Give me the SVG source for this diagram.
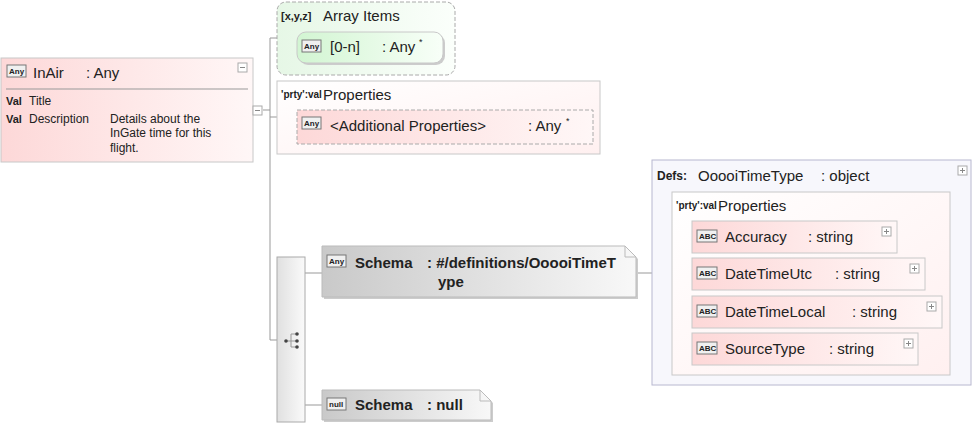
<svg xmlns="http://www.w3.org/2000/svg" width="975" height="428" viewBox="0 0 975 428">
<defs>
<linearGradient id="pink" x1="0" y1="0" x2="1" y2="0"><stop offset="0" stop-color="#fdd8d8"/><stop offset="1" stop-color="#fff7f7"/></linearGradient>
<linearGradient id="green" x1="0" y1="0" x2="1" y2="0"><stop offset="0" stop-color="#d2f5d2"/><stop offset="1" stop-color="#f8fff8"/></linearGradient>
<linearGradient id="greenbg" x1="0" y1="0" x2="1" y2="0"><stop offset="0" stop-color="#e6f7e6"/><stop offset="1" stop-color="#fbfffb"/></linearGradient>
<linearGradient id="gray" x1="0" y1="0" x2="1" y2="0"><stop offset="0" stop-color="#c9c9c9"/><stop offset="1" stop-color="#f8f8f8"/></linearGradient>
<linearGradient id="grayv" x1="0" y1="0" x2="1" y2="0"><stop offset="0" stop-color="#e0e0e0"/><stop offset="1" stop-color="#fafafa"/></linearGradient>
<linearGradient id="pinkbg" x1="0" y1="0" x2="1" y2="1"><stop offset="0" stop-color="#ffffff"/><stop offset="1" stop-color="#fff0f0"/></linearGradient>
</defs>
<style>
text{font-family:"Liberation Sans",Arial,sans-serif;fill:#222}
.t{font-size:15px}
.s{font-size:12px}
.xs{font-size:10px;font-weight:bold}
.b{font-weight:bold}
.box{stroke:#c8c8c8;stroke-width:1}
.ln{stroke:#999;stroke-width:1;fill:none}
.ic{fill:#f0f0f0;stroke:#777;stroke-width:1}
.pm{fill:#fff;stroke:#aaa;stroke-width:1}
</style>
<g id="connectors">
<path class="ln" d="M263 110H270M270 38V340M270 38H277M270 117H277M270 340H277M282 47H297M282 127H297M305 273H322M305 405H322M636 273H652M662 283H681M681 237V348M681 237H692M681 274H692M681 312H692M681 348H692"/>
<path class="ln" d="M282 38V47M282 117V127"/>
</g>
<g id="inair">
<rect x="1" y="58" width="252" height="104" fill="url(#pink)" class="box"/>
<rect x="7" y="65" width="19" height="12" class="ic"/><text x="9" y="74" style="font-size:8px;font-weight:bold">Any</text>
<text x="33" y="78" class="t">InAir</text><text x="86" y="78" class="t">: Any</text>
<rect x="238" y="63" width="9" height="9" class="pm"/><path d="M240 67.5H245" stroke="#888"/>
<line x1="6" y1="89" x2="248" y2="89" stroke="#999"/>
<text x="6" y="105" class="s b" style="font-size:11px">Val</text><text x="29" y="105" class="s">Title</text>
<text x="6" y="123" class="s b" style="font-size:11px">Val</text><text x="29" y="123" class="s">Description</text>
<text x="110" y="123" class="s">Details about the</text>
<text x="110" y="137" class="s">InGate time for this</text>
<text x="110" y="152" class="s">flight.</text>
<rect x="253" y="106" width="9" height="9" class="pm"/><path d="M255 110.5H260" stroke="#888"/>
</g>
<g id="arrayitems">
<rect x="277" y="2" width="178" height="73" rx="9" fill="url(#greenbg)" stroke="#aaa" stroke-dasharray="4,2"/>
<text x="281" y="20" style="font-size:11px;font-weight:bold">[x,y,z]</text><text x="323" y="21" class="t">Array Items</text>
<rect x="299" y="34" width="146" height="31" rx="9" fill="#ccc"/>
<rect x="297" y="32" width="146" height="31" rx="9" fill="url(#green)" class="box"/>
<rect x="302" y="40" width="19" height="12" class="ic"/><text x="304" y="49" style="font-size:8px;font-weight:bold">Any</text>
<text x="330" y="52" class="t">[0-n]</text><text x="382" y="52" class="t">: Any</text><text x="419" y="45" style="font-size:9px">*</text>
</g>
<g id="properties">
<rect x="277" y="81" width="323" height="73" fill="url(#pinkbg)" class="box"/>
<text x="281" y="98" style="font-size:10px;font-weight:bold">'prty':val</text><text x="323" y="100" class="t">Properties</text>
<rect x="297" y="110" width="296" height="34" fill="url(#pink)" stroke="#aaa" stroke-dasharray="4,2"/>
<rect x="302" y="117" width="19" height="12" class="ic"/><text x="304" y="126" style="font-size:8px;font-weight:bold">Any</text>
<text x="330" y="131" class="t">&lt;Additional Properties&gt;</text><text x="528" y="131" class="t">: Any</text><text x="566" y="124" style="font-size:9px">*</text>
</g>
<g id="choice">
<rect x="277" y="257" width="28" height="165" fill="url(#grayv)" stroke="#aaa"/>
<path d="M286 341H291V334H297M291 341H297M291 341V347H297" class="ln" stroke="#666"/>
<circle cx="286" cy="341" r="1.8" fill="#444"/><circle cx="297" cy="334" r="1.8" fill="#444"/><circle cx="297" cy="341" r="1.8" fill="#444"/><circle cx="297" cy="347" r="1.8" fill="#444"/>
</g>
<g id="schema1">
<path d="M324 248H627L638 259V299H324Z" fill="#ccc"/>
<path d="M322 246H625L636 257V297H322Z" fill="url(#gray)" stroke="#bbb"/>
<path d="M625 246V257H636" fill="none" stroke="#bbb"/>
<rect x="327" y="255" width="19" height="12" class="ic"/><text x="329" y="264" style="font-size:8px;font-weight:bold">Any</text>
<text x="355" y="268" class="t b">Schema</text><text x="427" y="268" class="t b">: #/definitions/OoooiTimeT</text>
<text x="438" y="287" class="t b">ype</text>
</g>
<g id="schema2">
<path d="M324 392H482L493 403V422H324Z" fill="#ccc"/>
<path d="M322 390H480L491 401V420H322Z" fill="url(#gray)" stroke="#bbb"/>
<path d="M480 390V401H491" fill="none" stroke="#bbb"/>
<rect x="327" y="398" width="19" height="12" class="ic"/><text x="329" y="407" style="font-size:8px;font-weight:bold">null</text>
<text x="355" y="410" class="t b">Schema</text><text x="427" y="410" class="t b">: null</text>
</g>
<g id="defs">
<rect x="652" y="160" width="319" height="225" fill="#f7f7fc" stroke="#b8b8d0"/>
<text x="657" y="180" class="s b">Defs:</text><text x="698" y="181" class="t">OoooiTimeType</text><text x="821" y="181" class="t">: object</text>
<rect x="958" y="166" width="9" height="9" class="pm"/><path d="M960 170.5H965M962.5 168V173" stroke="#888"/>
<rect x="672" y="192" width="278" height="183" fill="url(#pinkbg)" class="box"/>
<text x="676" y="209" style="font-size:10px;font-weight:bold">'prty':val</text><text x="718" y="211" class="t">Properties</text>
</g>
<g id="accuracy">
<rect x="692" y="221" width="205" height="32" fill="url(#pink)" class="box"/>
<rect x="697" y="230" width="20" height="12" class="ic"/><text x="699" y="239" style="font-size:8px;font-weight:bold">ABC</text>
<text x="725" y="242" class="t">Accuracy</text><text x="808" y="242" class="t">: string</text>
<rect x="882" y="227" width="9" height="9" class="pm"/><path d="M884 231.5H889M886.5 229V234" stroke="#888"/>
</g>
<g id="datetimeutc">
<rect x="692" y="258" width="233" height="32" fill="url(#pink)" class="box"/>
<rect x="697" y="267" width="20" height="12" class="ic"/><text x="699" y="276" style="font-size:8px;font-weight:bold">ABC</text>
<text x="725" y="279" class="t">DateTimeUtc</text><text x="835" y="279" class="t">: string</text>
<rect x="910" y="264" width="9" height="9" class="pm"/><path d="M912 268.5H917M914.5 266V271" stroke="#888"/>
</g>
<g id="datetimelocal">
<rect x="692" y="296" width="250" height="32" fill="url(#pink)" class="box"/>
<rect x="697" y="305" width="20" height="12" class="ic"/><text x="699" y="314" style="font-size:8px;font-weight:bold">ABC</text>
<text x="725" y="317" class="t">DateTimeLocal</text><text x="852" y="317" class="t">: string</text>
<rect x="927" y="302" width="9" height="9" class="pm"/><path d="M929 306.5H934M931.5 304V309" stroke="#888"/>
</g>
<g id="sourcetype">
<rect x="692" y="333" width="226" height="32" fill="url(#pink)" class="box"/>
<rect x="697" y="342" width="20" height="12" class="ic"/><text x="699" y="351" style="font-size:8px;font-weight:bold">ABC</text>
<text x="725" y="354" class="t">SourceType</text><text x="829" y="354" class="t">: string</text>
<rect x="904" y="339" width="9" height="9" class="pm"/><path d="M906 343.5H911M908.5 341V346" stroke="#888"/>
</g>
</svg>
